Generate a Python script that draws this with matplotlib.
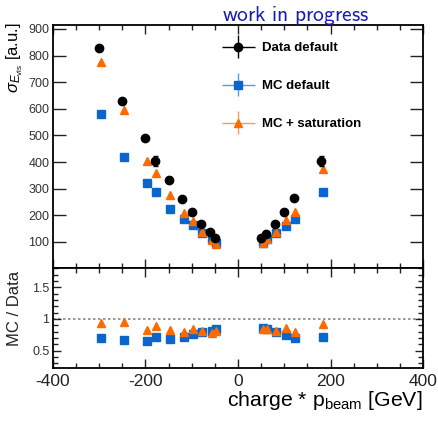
import numpy as np
import matplotlib
matplotlib.use("Agg")
import matplotlib.pyplot as plt
from matplotlib.ticker import MultipleLocator
from matplotlib.legend_handler import HandlerErrorbar

plt.rcParams['font.family'] = ['Liberation Sans', 'DejaVu Sans']
plt.rcParams['mathtext.fontset'] = 'custom'
plt.rcParams['mathtext.rm'] = 'Liberation Sans'
plt.rcParams['mathtext.it'] = 'Liberation Sans:italic'
plt.rcParams['axes.unicode_minus'] = False

# beam momentum times charge [GeV]
p_data = np.array([-300, -250, -200, -180, -150, -120, -100, -80, -60, -50,
                   50, 60, 80, 100, 120, 180], dtype=float)
p_mc = p_data + 3.0

# width of the visible energy distribution [a.u.]
sigma_data = np.array([828, 628, 490, 405, 332, 261, 213, 168, 136, 115,
                       114, 130, 168, 213, 264, 405], dtype=float)
sigma_data_err = np.array([12, 10, 6, 18, 5, 4, 4, 3, 3, 3,
                           3, 3, 3, 4, 5, 18], dtype=float)
sigma_mc = np.array([580, 418, 320, 287, 225, 188, 163, 133, 110, 97,
                     97, 110, 133, 160, 186, 287], dtype=float)
sigma_mc_sat = np.array([775, 595, 405, 360, 275, 209, 178, 137, 106, 94,
                         96, 110, 137, 183, 211, 373], dtype=float)

ratio_mc = sigma_mc / sigma_data
ratio_mc_sat = sigma_mc_sat / sigma_data

black = '#000000'
blue = '#0a66cc'
orange = '#ff6a00'

fig = plt.figure(figsize=(4.39, 4.21), dpi=100)
ax = fig.add_axes([0.1207, 0.3634, 0.8429, 0.5772])
axr = fig.add_axes([0.1207, 0.1259, 0.8429, 0.2375], sharex=ax)

# upper panel: resolution
ax.errorbar(p_mc, sigma_mc, fmt='s', color=blue, ms=5.6, mec=blue, zorder=3)
ax.errorbar(p_mc, sigma_mc_sat, fmt='^', color=orange, ms=6.0, mec=orange, zorder=4)
ax.errorbar(p_data, sigma_data, yerr=sigma_data_err, fmt='o', color=black,
            ms=6.0, elinewidth=1.0, capsize=1.8, zorder=5)

ax.set_xlim(-400, 400)
ax.set_ylim(2, 915)
ax.xaxis.set_major_locator(MultipleLocator(200))
ax.xaxis.set_minor_locator(MultipleLocator(50))
ax.tick_params(axis='both', which='both', direction='in', top=True, right=True,
               labelbottom=False, width=1.0, colors='#222222')
ax.tick_params(axis='y', which='major', length=9.5, labelsize=9, pad=2.5,
               labelcolor='#333333')
ax.tick_params(axis='x', which='major', length=6.5)
ax.tick_params(axis='x', which='minor', length=3.5)
ax.set_yticks([100, 200, 300, 400, 500, 600, 700, 800, 900])

# lower panel: MC / Data
axr.axhline(1.0, color='#888888', ls=(0, (1.5, 1.5)), lw=1.2, zorder=1)
axr.plot(p_mc, ratio_mc, 's', color=blue, ms=5.6, zorder=3)
axr.plot(p_mc, ratio_mc_sat, '^', color=orange, ms=6.0, zorder=4)
axr.set_ylim(0.225, 1.805)
axr.set_yticks([0.5, 1.0, 1.5])
axr.set_yticklabels(['0.5', '1', '1.5'])
axr.yaxis.set_minor_locator(MultipleLocator(0.1))
axr.set_xticks([-400, -200, 0, 200, 400])
axr.tick_params(axis='both', which='both', direction='in', top=True, right=True,
                width=1.0, colors='#222222')
axr.tick_params(axis='y', which='major', length=6, labelsize=9, pad=2.5,
                labelcolor='#333333')
axr.tick_params(axis='y', which='minor', length=3.5)
axr.tick_params(axis='x', which='major', length=6.5, labelsize=12.5, pad=4)
axr.tick_params(axis='x', which='minor', length=3.5)

for a in (ax, axr):
    for s in a.spines.values():
        s.set_linewidth(1.3)

axr.set_xlabel(r'charge * p$_{\mathrm{beam}}$ [GeV]', fontsize=15.3, loc='right',
               labelpad=0)

fig.text(0.033, 1 - 22 / 421, r'$\sigma_{E_{\mathrm{vis}}}$ [a.u.]', rotation=90,
         ha='center', va='top', fontsize=12)
fig.text(0.033, 1 - 308 / 421, 'MC / Data', rotation=90, ha='center',
         va='center', fontsize=12, color='#222222')

fig.text(222 / 439, 1 - 21 / 421, r'$\mathsf{work\ in\ progress}$', fontsize=15.5,
         color='#1a1ab4', ha='left', va='baseline',
         math_fontfamily='cm')

# legend with cross-shaped error-bar symbols
h_data = ax.errorbar([np.nan], [np.nan], xerr=[1], yerr=[1], fmt='o', color=black,
                     ms=6.0, elinewidth=1.0)
h_mc = ax.errorbar([np.nan], [np.nan], xerr=[1], yerr=[1], fmt='s', color=blue,
                   ms=5.6, elinewidth=1.0, ecolor='#5a9be0')
h_sat = ax.errorbar([np.nan], [np.nan], xerr=[1], yerr=[1], fmt='^', color=orange,
                    ms=6.0, elinewidth=1.0, ecolor='#ff9a5a')
leg = ax.legend([h_data, h_mc, h_sat], ['Data default', 'MC default', 'MC + saturation'],
                loc='upper left', bbox_to_anchor=(222 / 439, 1 - 42 / 421),
                bbox_transform=fig.transFigure, frameon=False, borderpad=0,
                borderaxespad=0, handlelength=2.5, handletextpad=0.55,
                labelspacing=1.95, prop={'weight': 'bold', 'size': 9.5},
                handler_map={type(h_data): HandlerErrorbar(xerr_size=1.25, yerr_size=0.85)})

fig.savefig('out.png', dpi=100)
